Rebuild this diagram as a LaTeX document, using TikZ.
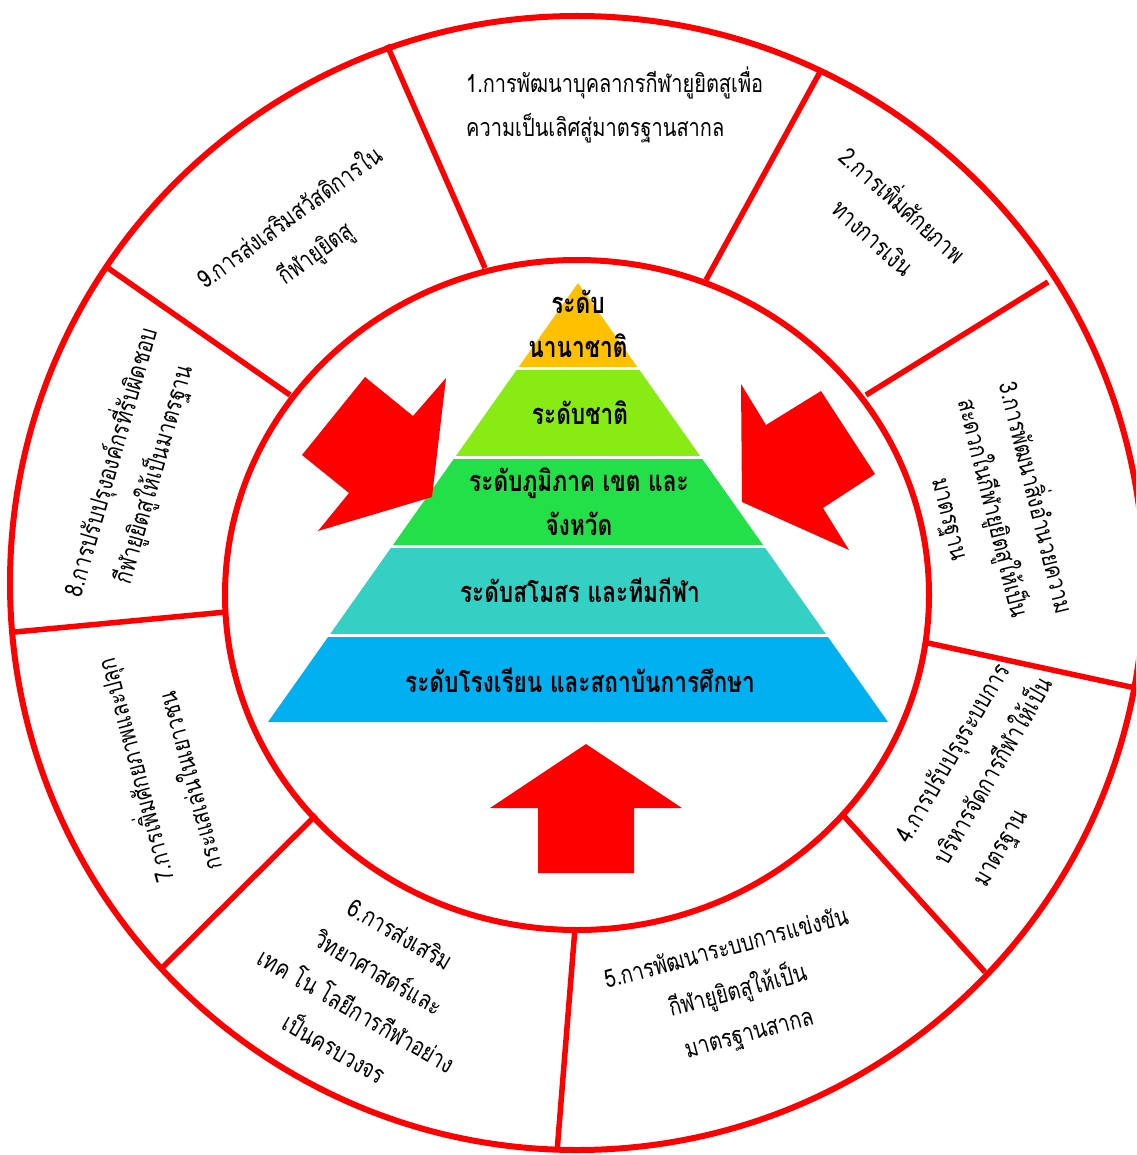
\documentclass[tikz,border=0pt]{standalone}
\usepackage{fontspec}
\newfontfamily\thai[Script=Thai,FakeStretch=0.8]{Loma}
\newfontfamily\thaibig[Script=Thai,FakeStretch=0.78]{Loma}
\definecolor{lvlA}{RGB}{255,192,0}
\definecolor{lvlB}{RGB}{136,236,20}
\definecolor{lvlC}{RGB}{35,224,72}
\definecolor{lvlD}{RGB}{52,208,196}
\definecolor{lvlE}{RGB}{0,176,240}
\tikzset{
  ring/.style={draw=red, line width=6pt},
  spoke/.style={draw=red, line width=5.5pt},
  gap/.style={draw=white, line width=3.5pt},
  lvl/.style={font=\thaibig\bfseries\fontsize{29}{44}\selectfont, align=center, inner sep=0pt},
  item/.style={font=\thai\fontsize{25}{44}\selectfont, inner sep=0pt},
  bigarrow/.style={fill=red}
}
\begin{document}
\begin{tikzpicture}[x=1pt,y=-1pt]
\useasboundingbox (0,0) rectangle (1136,1155);
\clip (0,0) rectangle (1136,1155);
\fill[white] (0,0) rectangle (1136,1155);
% rings
\draw[ring] (577,583) circle[radius=567];
\draw[ring] (577,595) ellipse[x radius=352, y radius=335];
% spokes
\draw[spoke] (485,268) -- (387,45);
\draw[spoke] (706,280) -- (820,72);
\draw[spoke] (866,395) -- (1048,282);
\draw[spoke] (928,643) -- (1140,689);
\draw[spoke] (843,815) -- (985,972);
\draw[spoke] (575,928) -- (557,1152);
\draw[spoke] (316,815) -- (163,967);
\draw[spoke] (226,612) -- (15,632);
\draw[spoke] (290,395) -- (108,268);
% pyramid
\fill[lvlA] (578,283) -- (638.4,368.5) -- (517.6,368.5) -- cycle;
\fill[lvlB] (517.6,368.5) -- (638.4,368.5) -- (701.2,457.5) -- (454.8,457.5) -- cycle;
\fill[lvlC] (454.8,457.5) -- (701.2,457.5) -- (764.1,546.5) -- (391.9,546.5) -- cycle;
\fill[lvlD] (391.9,546.5) -- (764.1,546.5) -- (826.9,635.5) -- (329.1,635.5) -- cycle;
\fill[lvlE] (329.1,635.5) -- (826.9,635.5) -- (888,722) -- (268,722) -- cycle;
\draw[gap] (512,368.5) -- (644,368.5);
\draw[gap] (449,457.5) -- (707,457.5);
\draw[gap] (386,546.5) -- (770,546.5);
\draw[gap] (323,635.5) -- (833,635.5);
\node[lvl] (l1) at (578,324) {ระดับ\\นานาชาติ};
\node[lvl] (l2) at (580,413) {ระดับชาติ};
\node[lvl] (l3) at (579,502) {ระดับภูมิภาค เขต และ\\จังหวัด};
\node[lvl] (l4) at (580,590) {ระดับสโมสร และทีมกีฬา};
\node[lvl] (l5) at (580,680) {ระดับโรงเรียน และสถาบันการศึกษา};
% arrows
\fill[bigarrow] (302,455) -- (365,377) -- (413,416) -- (446,378) -- (432,497) -- (318,531) -- (349,493) -- cycle;
\fill[bigarrow] (741,384) -- (766,425) -- (821,391) -- (875,474) -- (823,508) -- (849,550) -- (742,502) -- cycle;
\fill[bigarrow] (586,744) -- (682,808) -- (634,808) -- (634,873) -- (538,873) -- (538,808) -- (490,808) -- cycle;
% ring texts
\node[item, align=left, anchor=west] (s1) at (466,105) {1.การพัฒนาบุคลากรกีฬายูยิตสูเพื่อ\\ความเป็นเลิศสู่มาตรฐานสากล};
\node[item, rotate=-42, align=center] (s2) at (890,219) {2.การเพิ่มศักยภาพ\\ทางการเงิน};
\node[item, rotate=-76, align=center] (s3) at (994,508) {3.การพัฒนาสิ่งอำนวยความ\\สะดวกในกีฬายูยิตสูให้เป็น\\มาตรฐาน};
\node[item, rotate=60, align=left, anchor=west] (s4) at (942,863) {4.การปรับปรุงระบบการ\\บริหารจัดการกีฬาให้เป็น\\มาตรฐาน};
\node[item, rotate=15, align=center] (s5) at (738,992) {5.การพัฒนาระบบการแข่งขัน\\กีฬายูยิตสูให้เป็น\\มาตรฐานสากล};
\node[item, rotate=-30, align=center] (s6) at (368,991) {6.การส่งเสริม\\วิทยาศาสตร์และ\\เทค โน โลยีการกีฬาอย่าง\\เป็นครบวงจร};
\node[item, rotate=105, align=left, anchor=west] (s7) at (186,877) {7.การเพิ่มศักยภาพและปลุก\\[6pt]กระแสเล่นในเยาวชน};
\node[item, rotate=74, align=center] (s8) at (131,468) {8.การปรับปรุงองค์กรที่รับผิดชอบ\\กีฬายูยิตสูให้เป็นมาตรฐาน};
\node[item, rotate=36, align=center] (s9) at (303,236) {9.การส่งเสริมสวัสดิการใน\\กีฬายูยิตสู};
\end{tikzpicture}
\end{document}
